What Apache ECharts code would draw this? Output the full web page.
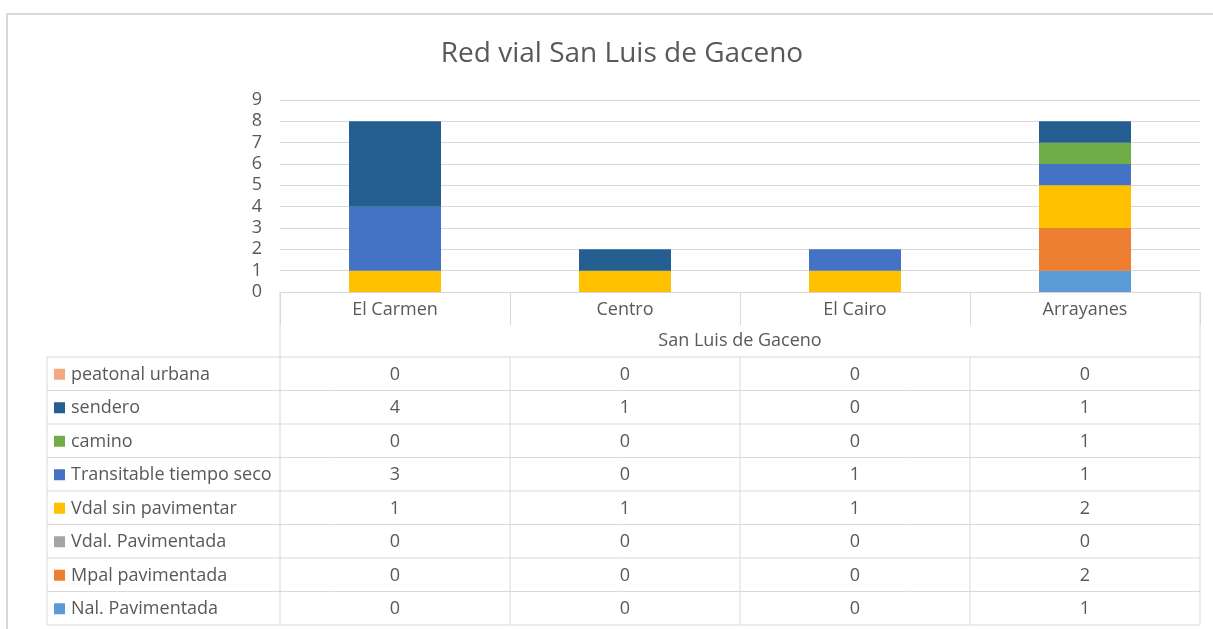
<!DOCTYPE html>
<html>
<head>
<meta charset="utf-8">
<script src="https://cdn.jsdelivr.net/npm/echarts@6/dist/echarts.min.js"></script>
<style>
  html, body { margin: 0; padding: 0; background: #fff; }
  #main { width: 1213px; height: 629px; }
</style>
</head>
<body>
<div id="main"></div>
<script>
// categorias y series (de abajo hacia arriba en la pila)
const categories = ['El Carmen', 'Centro', 'El Cairo', 'Arrayanes'];
const groupLabel = 'San Luis de Gaceno';
const nalPavimentada = [0, 0, 0, 1];
const mpalPavimentada = [0, 0, 0, 2];
const vdalPavimentada = [0, 0, 0, 0];
const vdalSinPavimentar = [1, 1, 1, 2];
const transitable = [3, 0, 1, 1];
const camino = [0, 0, 0, 1];
const sendero = [4, 1, 0, 1];
const peatonal = [0, 0, 0, 0];
const yTicks = [0, 1, 2, 3, 4, 5, 6, 7, 8, 9];

const seriesDefs = [
  {name: 'Nal. Pavimentada', data: nalPavimentada, color: '#5B9BD5'},
  {name: 'Mpal pavimentada', data: mpalPavimentada, color: '#ED7D31'},
  {name: 'Vdal. Pavimentada', data: vdalPavimentada, color: '#A5A5A5'},
  {name: 'Vdal sin pavimentar', data: vdalSinPavimentar, color: '#FFC000'},
  {name: 'Transitable tiempo seco', data: transitable, color: '#4472C4'},
  {name: 'camino', data: camino, color: '#70AD47'},
  {name: 'sendero', data: sendero, color: '#255E91'},
  {name: 'peatonal urbana', data: peatonal, color: '#F1A983'}
];

const FONT = '"Open Sans", sans-serif';
const TEXT = '#595959';
const LINE = '#D9D9D9';

const chart = echarts.init(document.getElementById('main'));

const option = {
  animation: false,
  title: {
    text: 'Red vial San Luis de Gaceno',
    left: 617, top: 35, textAlign: 'center',
    textStyle: {fontFamily: FONT, fontSize: 28, fontWeight: 'normal', color: TEXT}
  },
  grid: {left: 280, right: 13, top: 100, bottom: 337},
  xAxis: {
    type: 'category',
    data: categories,
    axisLine: {lineStyle: {color: LINE}},
    axisTick: {show: true, length: 33, lineStyle: {color: LINE}},
    axisLabel: {color: TEXT, fontFamily: FONT, fontSize: 18, margin: 9}
  },
  yAxis: {
    type: 'value',
    min: yTicks[0], max: yTicks[yTicks.length - 1], interval: 1,
    axisLine: {show: false},
    axisTick: {show: false},
    splitLine: {lineStyle: {color: LINE}},
    axisLabel: {color: TEXT, fontFamily: FONT, fontSize: 18, margin: 18}
  },
  series: seriesDefs.map(s => ({
    name: s.name,
    type: 'bar',
    stack: 'total',
    data: s.data,
    barWidth: 92,
    itemStyle: {color: s.color}
  }))
};
chart.setOption(option);

// tabla de datos debajo del grafico
const buildTable = () => {
  const g = [];
  const left = 47, split = 280, right = 1200;
  const top = 357, rowH = 33.5;
  const rows = seriesDefs.slice().reverse();
  const bottom = top + rowH * rows.length;
  const xs = categories.map(c => chart.convertToPixel({xAxisIndex: 0}, c));
  const lineStyle = {stroke: LINE, lineWidth: 1};

  // borde exterior del grafico
  g.push({type: 'rect', shape: {x: 7, y: 14, width: 1230, height: 640},
    style: {fill: 'none', stroke: LINE, lineWidth: 2}, silent: true});

  g.push({type: 'line', shape: {x1: split, y1: 292, x2: split, y2: bottom}, style: lineStyle});
  g.push({type: 'line', shape: {x1: right, y1: 292, x2: right, y2: bottom}, style: lineStyle});
  g.push({type: 'line', shape: {x1: left, y1: top, x2: left, y2: bottom}, style: lineStyle});
  g.push({type: 'text', x: (split + right) / 2, y: 341,
    style: {text: groupLabel, fill: TEXT, font: '18px ' + FONT, align: 'center', verticalAlign: 'middle'}});

  for (let i = 1; i < categories.length; i++) {
    const x = split + (right - split) * i / categories.length;
    g.push({type: 'line', shape: {x1: x, y1: top, x2: x, y2: bottom}, style: lineStyle});
  }
  for (let r = 0; r <= rows.length; r++) {
    const y = top + rowH * r;
    g.push({type: 'line', shape: {x1: left, y1: y, x2: right, y2: y}, style: lineStyle});
  }
  rows.forEach((s, r) => {
    const cy = top + rowH * r + rowH / 2 + 1;
    g.push({type: 'rect', shape: {x: 54, y: cy - 6, width: 11, height: 11}, style: {fill: s.color}});
    g.push({type: 'text', x: 71, y: cy,
      style: {text: s.name, fill: TEXT, font: '18px ' + FONT, verticalAlign: 'middle'}});
    s.data.forEach((v, c) => {
      g.push({type: 'text', x: xs[c], y: cy,
        style: {text: String(v), fill: TEXT, font: '18px ' + FONT, align: 'center', verticalAlign: 'middle'}});
    });
  });
  return g;
};

chart.setOption({graphic: buildTable()});
</script>
</body>
</html>
